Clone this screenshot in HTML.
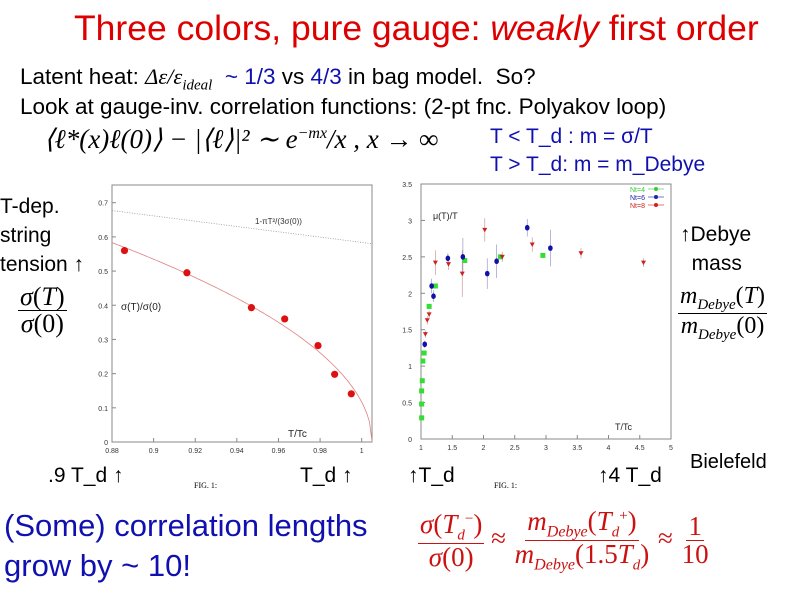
<!DOCTYPE html>
<html><head><meta charset="utf-8">
<style>
body{margin:0;width:800px;height:600px;background:#fff;position:relative;overflow:hidden;font-family:"Liberation Sans",sans-serif}
.t{position:absolute;white-space:nowrap;line-height:1}
.m{font-family:"Liberation Serif",serif}
.frac{display:inline-flex;flex-direction:column;align-items:center;vertical-align:middle}
.frac span{padding:0 2px}
.frac .num{border-bottom:1.5px solid currentColor}
</style></head><body>
<div class="t" style="left:74px;top:11px;font-size:35.5px;color:#dd0000">Three colors, pure gauge: <i>weakly</i> first order</div>
<div class="t" style="left:20px;top:66px;font-size:22.5px">Latent heat: <span class="m"><i>Δε/ε<sub style="font-size:15px">ideal</sub></i></span> &nbsp;<span style="color:#1010b0">~ 1/3</span> vs <span style="color:#1010b0">4/3</span> in bag model.&nbsp; So?</div>
<div class="t" style="left:20px;top:96px;font-size:22.5px">Look at gauge-inv. correlation functions: (2-pt fnc. Polyakov loop)</div>
<div class="t m" style="left:44px;top:126px;font-size:27px"><i>⟨ℓ*(x)ℓ(0)⟩ − |⟨ℓ⟩|² ∼ e<sup style="font-size:16px">−mx</sup>/x , x → ∞</i></div>
<div class="t" style="left:490px;top:126px;font-size:21px;color:#1010b0">T &lt; T_d : m = σ/T</div>
<div class="t" style="left:490px;top:154px;font-size:21px;color:#1010b0">T &gt; T_d: m = m_Debye</div>
<div class="t" style="left:0;top:192px;font-size:21px;line-height:29px">T-dep.<br>string<br>tension ↑</div>
<div class="t m" style="left:18px;top:284px;font-size:26px"><div class="frac"><span class="num"><i>σ</i>(<i>T</i>)</span><span><i>σ</i>(0)</span></div></div>
<div class="t" style="left:680px;top:220px;font-size:21px;line-height:29px">↑Debye<br>&nbsp;&nbsp;mass</div>
<div class="t m" style="left:678px;top:284px;font-size:24px"><div class="frac"><span class="num"><i>m<sub style="font-size:15px">Debye</sub></i>(<i>T</i>)</span><span><i>m<sub style="font-size:15px">Debye</sub></i>(0)</span></div></div>
<div class="t" style="left:48px;top:465px;font-size:21px">.9 T_d ↑</div>
<div class="t" style="left:300px;top:465px;font-size:21px">T_d ↑</div>
<div class="t" style="left:408px;top:465px;font-size:21px">↑T_d</div>
<div class="t" style="left:598px;top:465px;font-size:21px">↑4 T_d</div>
<div class="t" style="left:690px;top:452px;font-size:20px">Bielefeld</div>
<div class="t m" style="left:194px;top:482px;font-size:8px">FIG. 1:</div>
<div class="t m" style="left:494px;top:482px;font-size:8px">FIG. 1:</div>
<div class="t" style="left:4px;top:506px;font-size:31px;line-height:40px;color:#1010b0">(Some) correlation lengths<br>grow by ~ 10!</div>
<div class="t m" style="left:418px;top:508px;font-size:27px;color:#cc1111"><div class="frac"><span class="num"><i>σ</i>(<i>T<sub style="font-size:15px">d</sub></i><sup style="font-size:15px">−</sup>)</span><span><i>σ</i>(0)</span></div> ≈ <div class="frac"><span class="num"><i>m<sub style="font-size:16px">Debye</sub></i>(<i>T<sub style="font-size:15px">d</sub></i><sup style="font-size:15px">+</sup>)</span><span><i>m<sub style="font-size:16px">Debye</sub></i>(1.5<i>T<sub style="font-size:15px">d</sub></i>)</span></div> ≈ <div class="frac"><span class="num">1</span><span>10</span></div></div>
<svg id="s" width="800" height="600" style="position:absolute;left:0;top:0"></svg>
<script>
// left plot data
const lx = [0.886,0.916,0.947,0.963,0.979,0.987,0.995];
const ly = [0.56,0.495,0.393,0.36,0.282,0.198,0.141];
const lxTicks = ["0.88","0.9","0.92","0.94","0.96","0.98","1"];
const lyTicks = ["0","0.1","0.2","0.3","0.4","0.5","0.6","0.7"];
// right plot data
const g4x = [1.01,1.01,1.01,1.02,1.03,1.05,1.13,1.23,1.7,2.27,2.95];
const g4y = [0.29,0.48,0.66,0.8,1.07,1.18,1.82,2.1,2.45,2.5,2.52];
const b6x = [1.06,1.17,1.2,1.43,1.67,2.06,2.21,2.7,3.07];
const b6y = [1.3,2.1,1.96,2.48,2.5,2.27,2.44,2.9,2.62];
const b6e = [0.05,0.1,0.08,0.07,0.26,0.21,0.23,0.12,0.25];
const r8x = [1.07,1.1,1.13,1.23,1.44,1.66,2.02,2.3,2.78,3.56,4.56];
const r8y = [1.44,1.63,1.71,2.42,2.4,2.27,2.87,2.5,2.67,2.55,2.42];
const r8e = [0.05,0.06,0.05,0.17,0.08,0.32,0.16,0.07,0.1,0.07,0.06];
const rxTicks = ["1","1.5","2","2.5","3","3.5","4","4.5","5"];
const ryTicks = ["0","0.5","1","1.5","2","2.5","3","3.5"];

const S=document.getElementById('s');const NS='http://www.w3.org/2000/svg';
function mk(t,a,txt){const e=document.createElementNS(NS,t);for(const k in a)e.setAttribute(k,a[k]);if(txt!=null)e.textContent=txt;S.appendChild(e);return e;}
const LX=v=>112+(v-0.88)/0.12*249.7, LY=v=>442-v/0.7*239.3;
let e=mk('rect',{x:112,y:185,width:260,height:257,fill:'none',stroke:'#888','stroke-width':1});

lxTicks.forEach(t=>{const x=LX(+t);mk('line',{x1:x,x2:x,y1:442,y2:438,stroke:'#888'});e=mk('text',{x:x,y:453,'font-size':7,'text-anchor':'middle',fill:'#333'},t);});
lyTicks.forEach(t=>{const y=LY(+t);mk('line',{x1:112,x2:116,y1:y,y2:y,stroke:'#888'});e=mk('text',{x:108,y:y+3,'font-size':7,'text-anchor':'end',fill:'#333'},t);});
let p='';for(let i=0;i<=100;i++){const x=0.88+0.125*i/100;const y=1.65*Math.sqrt(Math.max(0,1.005-x));p+=(i?'L':'M')+LX(x)+','+LY(y);}
e=mk('path',{d:p,fill:'none',stroke:'#e08080','stroke-width':0.8});
e=mk('line',{x1:LX(0.88),y1:LY(0.677),x2:LX(1.005),y2:LY(0.58),stroke:'#999','stroke-dasharray':'1,1.5','stroke-width':0.8});
mk('text',{x:255,y:224,'font-size':8,fill:'#333'},'1-πT²/(3σ(0))');
mk('text',{x:121,y:310,'font-size':10,fill:'#222'},'σ(T)/σ(0)');
mk('text',{x:288,y:437,'font-size':10,fill:'#222'},'T/Tc');
lx.forEach((v,i)=>{e=mk('circle',{cx:LX(v),cy:LY(ly[i]),r:3.6,fill:'#dd1111'});});
const RX=v=>421+(v-1)/4*250, RY=v=>439-v/3.5*255;
e=mk('rect',{x:421,y:184,width:250,height:255,fill:'none',stroke:'#888'});
rxTicks.forEach(t=>{const x=RX(+t);mk('line',{x1:x,x2:x,y1:439,y2:435,stroke:'#888'});e=mk('text',{x:x,y:450,'font-size':7,'text-anchor':'middle',fill:'#333'},t);});
ryTicks.forEach(t=>{const y=RY(+t);mk('line',{x1:421,x2:425,y1:y,y2:y,stroke:'#888'});e=mk('text',{x:412,y:y+3,'font-size':7,'text-anchor':'end',fill:'#333'},t);});
mk('text',{x:433,y:219,'font-size':9,fill:'#222'},'μ(T)/T');
mk('text',{x:615,y:430,'font-size':9,fill:'#222'},'T/Tc');
b6x.forEach((v,i)=>{mk('line',{x1:RX(v),x2:RX(v),y1:RY(b6y[i]-b6e[i]),y2:RY(b6y[i]+b6e[i]),stroke:'#9999cc','stroke-width':0.7});});
r8x.forEach((v,i)=>{mk('line',{x1:RX(v),x2:RX(v),y1:RY(r8y[i]-r8e[i]),y2:RY(r8y[i]+r8e[i]),stroke:'#cc9999','stroke-width':0.7});});
g4x.forEach((v,i)=>{e=mk('rect',{x:RX(v)-2.5,y:RY(g4y[i])-2.5,width:5,height:5,fill:'#33dd33'});});
b6x.forEach((v,i)=>{e=mk('ellipse',{cx:RX(v),cy:RY(b6y[i]),rx:2.3,ry:2.8,fill:'#1111aa'});});
r8x.forEach((v,i)=>{const x=RX(v),y=RY(r8y[i]);e=mk('path',{d:`M${x-2.5},${y-2}L${x+2.5},${y-2}L${x},${y+2.5}Z`,fill:'#cc2222'});});
[['Nt=4','#33cc33',0],['Nt=6','#2222aa',1],['Nt=8','#cc2222',2]].forEach(l=>{const y=189+l[2]*8;e=mk('text',{x:630,y:y+3,'font-size':7,fill:l[1]},l[0]);mk('line',{x1:648,x2:664,y1:y,y2:y,stroke:l[1],'stroke-width':0.6});mk('circle',{cx:656,cy:y,r:2,fill:l[1]});});
</script>
</body></html>
